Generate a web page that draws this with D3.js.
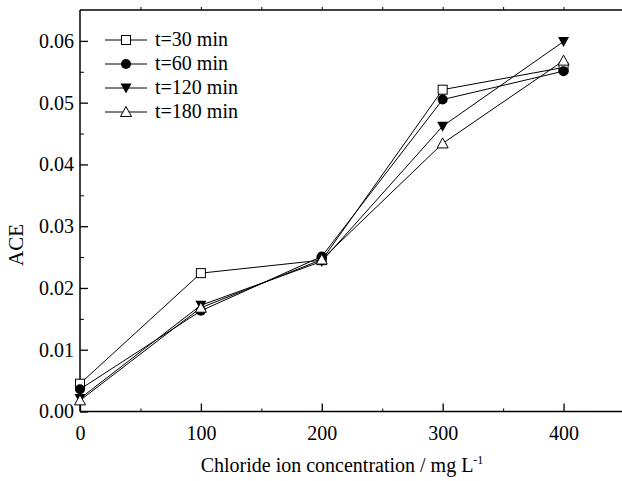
<!DOCTYPE html>
<html>
<head>
<meta charset="utf-8">
<script src="https://cdn.jsdelivr.net/npm/d3@7"></script>
<style>
body { margin: 0; background: #fff; }
text { font-family: "Liberation Serif", "Times New Roman", serif; fill: #000; }
</style>
</head>
<body>
<script>
var concentrations = [0, 100, 200, 300, 400];
var seriesNames = ["t=30 min", "t=60 min", "t=120 min", "t=180 min"];
var ace30 = [0.0045, 0.0224, 0.0245, 0.0521, 0.0557];
var ace60 = [0.0036, 0.0163, 0.0251, 0.0505, 0.0551];
var ace120 = [0.0021, 0.0172, 0.0243, 0.0462, 0.0599];
var ace180 = [0.0018, 0.0168, 0.0246, 0.0434, 0.0568];
var xTicks = [0, 100, 200, 300, 400];
var yTicks = [0.00, 0.01, 0.02, 0.03, 0.04, 0.05, 0.06];

var allSeries = [ace30, ace60, ace120, ace180];
var markers = ["square", "circle", "down", "up"];

var width = 622, height = 481;
var mLeft = 80, mTop = 10, mBottom = 411.5, mRight = 624;

var svg = d3.select("body").append("svg").attr("width", width).attr("height", height);

var x = d3.scaleLinear().domain([0, 450]).range([mLeft, mRight]);
var y = d3.scaleLinear().domain([0, 0.065]).range([mBottom, mTop]);

// top frame line
svg.append("line").attr("x1", mLeft).attr("x2", mRight).attr("y1", mTop).attr("y2", mTop)
	.attr("stroke", "#000").attr("stroke-width", 1.5);

// bottom axis, ticks pointing inward
var xAxis = d3.axisBottom(x).tickValues(xTicks).tickFormat(d3.format("d")).tickSize(-8).tickPadding(14);
var gx = svg.append("g").attr("transform", "translate(0," + mBottom + ")").call(xAxis);
var xMinor = d3.axisBottom(x).tickValues([50, 150, 250, 350, 450]).tickFormat("").tickSize(-3);
svg.append("g").attr("transform", "translate(0," + mBottom + ")").call(xMinor).select(".domain").remove();

// top axis small ticks
var xTop = d3.axisTop(x).tickValues([50, 100, 150, 200, 250, 300, 350, 400, 450]).tickFormat("").tickSize(3);
svg.append("g").attr("transform", "translate(0," + mTop + ")").call(xTop).select(".domain").remove();

// left axis
var yAxis = d3.axisLeft(y).tickValues(yTicks).tickFormat(d3.format(".2f")).tickSize(-8).tickPadding(6);
var gy = svg.append("g").attr("transform", "translate(" + mLeft + ",0)").call(yAxis);
var yMinor = d3.axisLeft(y).tickValues([0.005, 0.015, 0.025, 0.035, 0.045, 0.055]).tickFormat("").tickSize(-4);
svg.append("g").attr("transform", "translate(" + mLeft + ",0)").call(yMinor).select(".domain").remove();

[gx, gy].forEach(function(g){
	g.select(".domain").attr("stroke-width", 1.5);
	g.selectAll("line").attr("stroke-width", 1.3);
	g.selectAll("text").style("font-size", "20px").attr("font-family", "Liberation Serif");
});
gx.select(".domain").attr("d", "M" + mLeft + ",0H" + mRight);
gy.select(".domain").attr("d", "M0," + mBottom + "V" + mTop);

// lines
var line = d3.line().x(function(d, i){ return x(concentrations[i]); }).y(function(d){ return y(d); });
allSeries.forEach(function(s){
	svg.append("path").attr("d", line(s)).attr("fill", "none").attr("stroke", "#000").attr("stroke-width", 1);
});

function drawMarker(g, type, cx, cy) {
	if (type === "square") {
		g.append("rect").attr("x", cx - 4.5).attr("y", cy - 4.5).attr("width", 9).attr("height", 9)
			.attr("fill", "#fff").attr("stroke", "#000").attr("stroke-width", 1);
	} else if (type === "circle") {
		g.append("circle").attr("cx", cx).attr("cy", cy).attr("r", 5).attr("fill", "#000");
	} else if (type === "down") {
		g.append("path").attr("d", "M" + (cx - 5.5) + "," + (cy - 4.5) + "L" + (cx + 5.5) + "," + (cy - 4.5) + "L" + cx + "," + (cy + 5.5) + "Z")
			.attr("fill", "#000");
	} else {
		g.append("path").attr("d", "M" + (cx - 5.5) + "," + (cy + 4.5) + "L" + (cx + 5.5) + "," + (cy + 4.5) + "L" + cx + "," + (cy - 5.5) + "Z")
			.attr("fill", "#fff").attr("stroke", "#000").attr("stroke-width", 1);
	}
}

var markG = svg.append("g");
allSeries.forEach(function(s, k){
	s.forEach(function(v, i){
		drawMarker(markG, markers[k], x(concentrations[i]), y(v));
	});
});

// legend
var legendY = [40, 64, 88, 112];
var lg = svg.append("g");
seriesNames.forEach(function(name, k){
	var ly = legendY[k];
	lg.append("line").attr("x1", 105).attr("x2", 147).attr("y1", ly).attr("y2", ly)
		.attr("stroke", "#000").attr("stroke-width", 1);
	drawMarker(lg, markers[k], 126, ly);
	lg.append("text").attr("x", 155).attr("y", ly + 6).style("font-size", "20px").text(name);
});

// axis titles
svg.append("text").attr("transform", "translate(23,245) rotate(-90)").attr("text-anchor", "middle")
	.style("font-size", "21px").text("ACE");
var xt = svg.append("text").attr("x", 342).attr("y", 472).attr("text-anchor", "middle").style("font-size", "20px");
xt.append("tspan").text("Chloride ion concentration / mg L");
xt.append("tspan").attr("dy", -8).style("font-size", "12px").text("-1");
</script>
</body>
</html>
